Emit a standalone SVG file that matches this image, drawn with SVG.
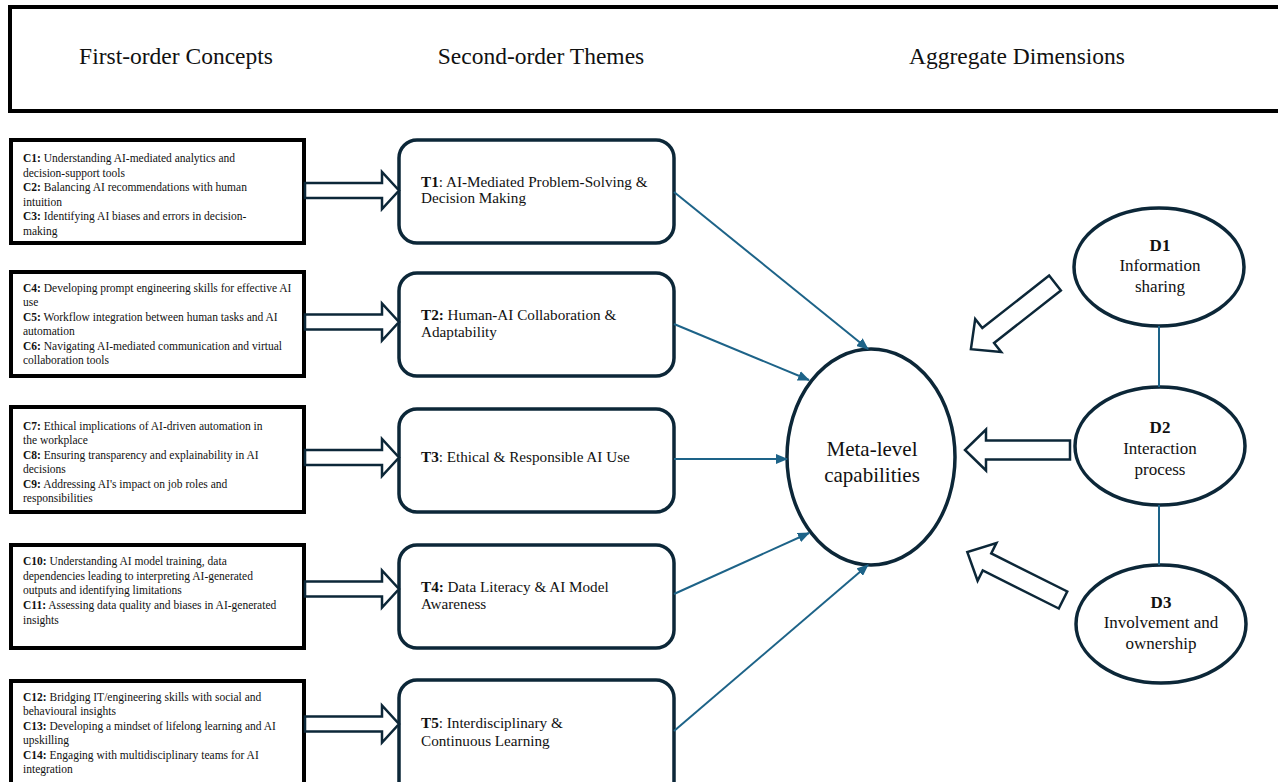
<svg xmlns="http://www.w3.org/2000/svg" width="1278" height="782" viewBox="0 0 1278 782">
<style>
.hdr{font-family:"Liberation Serif","DejaVu Serif",serif;font-size:23.5px;fill:#111;text-anchor:middle}
.cbox{fill:#fff;stroke:#000;stroke-width:4}
.ctx{font-family:"Liberation Serif","DejaVu Serif",serif;font-size:11.5px;fill:#111}
.tbox{fill:#fff;stroke:#0c2738;stroke-width:3.5}
.ttx{font-family:"Liberation Serif","DejaVu Serif",serif;font-size:15.2px;fill:#111}
.ell{fill:#fff;stroke:#0c2738;stroke-width:3.5}
.dtx{font-family:"Liberation Serif","DejaVu Serif",serif;font-size:17px;fill:#111;text-anchor:middle}
.mtx{font-family:"Liberation Serif","DejaVu Serif",serif;font-size:21px;fill:#111;text-anchor:middle}
.blk{fill:#fff;stroke:#0c2738;stroke-width:2.5;stroke-linejoin:miter}
.con{stroke:#1d6388;stroke-width:2;fill:none}
.b{font-weight:bold}
</style>
<defs>
<marker id="ah" markerWidth="12" markerHeight="10" refX="11" refY="5" orient="auto" markerUnits="userSpaceOnUse">
<path d="M0,0 L12,5 L0,10 z" fill="#1d6388"/>
</marker>
<polygon id="carrow" points="0,-7.5 77,-7.5 77,-18.5 94,0 77,18.5 77,7.5 0,7.5"/>
</defs>

<g id="header">
<rect x="10" y="7" width="1285" height="104" fill="#fff" stroke="#000" stroke-width="4"/>
<text class="hdr" x="176" y="64">First-order Concepts</text>
<text class="hdr" x="541" y="64">Second-order Themes</text>
<text class="hdr" x="1017" y="64">Aggregate Dimensions</text>
</g>

<g id="C1-3">
<rect class="cbox" x="11" y="140" width="293" height="103"/>
<text class="ctx"><tspan x="23" y="162"><tspan class="b">C1:</tspan> Understanding AI-mediated analytics and</tspan><tspan x="23" y="177">decision-support tools</tspan><tspan x="23" y="191"><tspan class="b">C2:</tspan> Balancing AI recommendations with human</tspan><tspan x="23" y="206">intuition</tspan><tspan x="23" y="220"><tspan class="b">C3:</tspan> Identifying AI biases and errors in decision-</tspan><tspan x="23" y="235">making</tspan></text>
</g>
<g id="C4-6">
<rect class="cbox" x="11" y="272" width="293" height="104"/>
<text class="ctx"><tspan x="23" y="292"><tspan class="b">C4:</tspan> Developing prompt engineering skills for effective AI</tspan><tspan x="23" y="306">use</tspan><tspan x="23" y="321"><tspan class="b">C5:</tspan> Workflow integration between human tasks and AI</tspan><tspan x="23" y="335">automation</tspan><tspan x="23" y="350"><tspan class="b">C6:</tspan> Navigating AI-mediated communication and virtual</tspan><tspan x="23" y="364">collaboration tools</tspan></text>
</g>
<g id="C7-9">
<rect class="cbox" x="11" y="407" width="293" height="105"/>
<text class="ctx"><tspan x="23" y="430"><tspan class="b">C7:</tspan> Ethical implications of AI-driven automation in</tspan><tspan x="23" y="444">the workplace</tspan><tspan x="23" y="459"><tspan class="b">C8:</tspan> Ensuring transparency and explainability in AI</tspan><tspan x="23" y="473">decisions</tspan><tspan x="23" y="488"><tspan class="b">C9:</tspan> Addressing AI's impact on job roles and</tspan><tspan x="23" y="502">responsibilities</tspan></text>
</g>
<g id="C10-11">
<rect class="cbox" x="11" y="545" width="293" height="103"/>
<text class="ctx"><tspan x="23" y="565"><tspan class="b">C10:</tspan> Understanding AI model training, data</tspan><tspan x="23" y="580">dependencies leading to interpreting AI-generated</tspan><tspan x="23" y="594">outputs and identifying limitations</tspan><tspan x="23" y="609"><tspan class="b">C11:</tspan> Assessing data quality and biases in AI-generated</tspan><tspan x="23" y="624">insights</tspan></text>
</g>
<g id="C12-14">
<rect class="cbox" x="11" y="681" width="293" height="120"/>
<text class="ctx"><tspan x="23" y="701"><tspan class="b">C12:</tspan> Bridging IT/engineering skills with social and</tspan><tspan x="23" y="715">behavioural insights</tspan><tspan x="23" y="730"><tspan class="b">C13:</tspan> Developing a mindset of lifelong learning and AI</tspan><tspan x="23" y="744">upskilling</tspan><tspan x="23" y="759"><tspan class="b">C14:</tspan> Engaging with multidisciplinary teams for AI</tspan><tspan x="23" y="773">integration</tspan></text>
</g>

<g id="T1">
<rect class="tbox" x="399" y="140" width="275" height="103" rx="18"/>
<text class="ttx"><tspan x="421" y="187"><tspan class="b">T1</tspan>: AI-Mediated Problem-Solving &amp;</tspan><tspan x="421" y="203">Decision Making</tspan></text>
</g>
<g id="T2">
<rect class="tbox" x="399" y="273" width="275" height="103" rx="18"/>
<text class="ttx"><tspan x="421" y="320"><tspan class="b">T2:</tspan> Human-AI Collaboration &amp;</tspan><tspan x="421" y="337">Adaptability</tspan></text>
</g>
<g id="T3">
<rect class="tbox" x="399" y="409" width="275" height="103" rx="18"/>
<text class="ttx"><tspan x="421" y="462"><tspan class="b">T3</tspan>: Ethical &amp; Responsible AI Use</tspan></text>
</g>
<g id="T4">
<rect class="tbox" x="399" y="545" width="275" height="103" rx="18"/>
<text class="ttx"><tspan x="421" y="592"><tspan class="b">T4:</tspan> Data Literacy &amp; AI Model</tspan><tspan x="421" y="609">Awareness</tspan></text>
</g>
<g id="T5">
<rect class="tbox" x="399" y="680" width="275" height="120" rx="18"/>
<text class="ttx"><tspan x="421" y="728"><tspan class="b">T5</tspan>: Interdisciplinary &amp;</tspan><tspan x="421" y="746">Continuous Learning</tspan></text>
</g>

<g id="meta">
<ellipse class="ell" cx="871" cy="457" rx="84" ry="108"/>
<text class="mtx" x="872" y="456">Meta-level</text>
<text class="mtx" x="872" y="482">capabilities</text>
</g>

<g id="D1">
<ellipse class="ell" cx="1159" cy="267" rx="85" ry="59"/>
<text class="dtx" x="1160" y="251" font-weight="bold">D1</text>
<text class="dtx" x="1160" y="271">Information</text>
<text class="dtx" x="1160" y="292">sharing</text>
</g>
<g id="D2">
<ellipse class="ell" cx="1160" cy="446" rx="85" ry="59"/>
<text class="dtx" x="1160" y="433" font-weight="bold">D2</text>
<text class="dtx" x="1160" y="454">Interaction</text>
<text class="dtx" x="1160" y="475">process</text>
</g>
<g id="D3">
<ellipse class="ell" cx="1161" cy="624" rx="85" ry="59"/>
<text class="dtx" x="1161" y="608" font-weight="bold">D3</text>
<text class="dtx" x="1161" y="628">Involvement and</text>
<text class="dtx" x="1161" y="649">ownership</text>
</g>

<g id="connectors">
<use href="#carrow" class="blk" x="305" y="190.5"/>
<use href="#carrow" class="blk" x="305" y="322"/>
<use href="#carrow" class="blk" x="305" y="457.5"/>
<use href="#carrow" class="blk" x="305" y="589"/>
<use href="#carrow" class="blk" x="305" y="724"/>

<line class="con" x1="674" y1="192" x2="868" y2="349" marker-end="url(#ah)"/>
<line class="con" x1="674" y1="324" x2="809" y2="380" marker-end="url(#ah)"/>
<line class="con" x1="674" y1="459" x2="787" y2="459" marker-end="url(#ah)"/>
<line class="con" x1="674" y1="594" x2="809" y2="533" marker-end="url(#ah)"/>
<line class="con" x1="674" y1="731" x2="868" y2="565" marker-end="url(#ah)"/>

<line class="con" x1="1159" y1="326" x2="1159" y2="387"/>
<line class="con" x1="1159" y1="505" x2="1159" y2="565"/>

<polygon class="blk" transform="translate(1055,283) rotate(141.8)" points="0,-9.5 85,-9.5 85,-21 107,0 85,21 85,9.5 0,9.5"/>
<polygon class="blk" transform="translate(1070,450) rotate(180)" points="0,-9.5 84,-9.5 84,-20.5 105,0 84,20.5 84,9.5 0,9.5"/>
<polygon class="blk" transform="translate(1063,600) rotate(-153.4)" points="0,-9.5 85,-9.5 85,-21 107,0 85,21 85,9.5 0,9.5"/>
</g>
</svg>
